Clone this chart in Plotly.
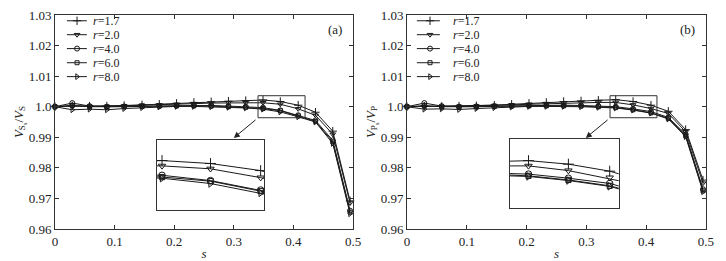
import plotly.graph_objects as go

# ---------------- data ----------------
s = [0.0, 0.029, 0.058, 0.087, 0.116, 0.146, 0.175, 0.204, 0.233,
     0.262, 0.291, 0.320, 0.349, 0.378, 0.408, 0.437, 0.466, 0.495]

r_labels = ["1.7", "2.0", "4.0", "6.0", "8.0"]

vs_r17 = [1.0000, 1.0003, 1.0002, 1.0002, 1.0004, 1.0006, 1.0008, 1.0011, 1.0014,
          1.0016, 1.0018, 1.0020, 1.0022, 1.0017, 1.0005, 0.9982, 0.9920, 0.9692]
vs_r20 = [1.0000, 1.0002, 1.0001, 1.0001, 1.0003, 1.0005, 1.0006, 1.0008, 1.0010,
          1.0012, 1.0013, 1.0013, 1.0013, 1.0008, 0.9993, 0.9972, 0.9910, 0.9685]
vs_r40 = [1.0000, 1.0012, 1.0002, 1.0000, 1.0001, 1.0002, 1.0003, 1.0004, 1.0005,
          1.0004, 1.0002, 1.0000, 0.9997, 0.9988, 0.9972, 0.9955, 0.9890, 0.9660]
vs_r60 = [1.0000, 1.0004, 1.0000, 0.9999, 1.0000, 1.0001, 1.0002, 1.0003, 1.0003,
          1.0002, 1.0000, 0.9998, 0.9994, 0.9987, 0.9970, 0.9952, 0.9885, 0.9655]
vs_r80 = [1.0000, 0.9990, 0.9992, 0.9990, 0.9994, 0.9997, 0.9999, 1.0001, 1.0001,
          1.0000, 0.9998, 0.9996, 0.9992, 0.9983, 0.9967, 0.9950, 0.9880, 0.9650]

vp_r17 = [1.0000, 1.0002, 1.0001, 1.0002, 1.0003, 1.0005, 1.0008, 1.0011, 1.0014,
          1.0017, 1.0019, 1.0021, 1.0023, 1.0017, 1.0005, 0.9985, 0.9925, 0.9760]
vp_r20 = [1.0000, 1.0001, 1.0000, 1.0001, 1.0002, 1.0004, 1.0006, 1.0008, 1.0010,
          1.0012, 1.0013, 1.0014, 1.0014, 1.0006, 0.9994, 0.9978, 0.9918, 0.9750]
vp_r40 = [1.0000, 1.0012, 1.0002, 1.0000, 1.0001, 1.0002, 1.0003, 1.0004, 1.0005,
          1.0005, 1.0004, 1.0002, 1.0000, 0.9993, 0.9984, 0.9965, 0.9910, 0.9730]
vp_r60 = [1.0000, 1.0003, 1.0000, 0.9999, 1.0000, 1.0001, 1.0002, 1.0003, 1.0003,
          1.0003, 1.0002, 1.0000, 0.9997, 0.9990, 0.9980, 0.9962, 0.9905, 0.9725]
vp_r80 = [1.0000, 0.9992, 0.9993, 0.9991, 0.9994, 0.9997, 0.9999, 1.0001, 1.0001,
          1.0001, 1.0000, 0.9998, 0.9996, 0.9989, 0.9979, 0.9960, 0.9902, 0.9722]

x_ticks = [0, 0.1, 0.2, 0.3, 0.4, 0.5]
x_ticktext = ["0", "0.1", "0.2", "0.3", "0.4", "0.5"]
y_ticks = [0.96, 0.97, 0.98, 0.99, 1.00, 1.01, 1.02, 1.03]
y_ticktext = ["0.96", "0.97", "0.98", "0.99", "1.0", "1.01", "1.02", "1.03"]

# ---------------- style ----------------
symbols = ["cross-thin-open", "triangle-down-open", "circle-open", "square-open", "triangle-right-open"]
msize = [6, 5, 5, 4, 5]
LINE = "#1a1a1a"
FONT = "Liberation Serif"

panelA = [vs_r17, vs_r20, vs_r40, vs_r60, vs_r80]
panelB = [vp_r17, vp_r20, vp_r40, vp_r60, vp_r80]

fig = go.Figure()

def add_series(series, xa, ya, size_scale=1.0):
    for i, ys in enumerate(series):
        fig.add_trace(go.Scatter(
            x=s, y=ys, mode="lines+markers", xaxis=xa, yaxis=ya,
            line=dict(color=LINE, width=1),
            marker=dict(symbol=symbols[i], size=msize[i] * size_scale, color=LINE,
                        line=dict(width=1, color=LINE)),
            cliponaxis=(xa in ("x5", "x6")), showlegend=False, hoverinfo="skip"))

add_series(panelA, "x", "y")
add_series(panelB, "x2", "y2")
add_series(panelA, "x5", "y5", 1.3)
add_series(panelB, "x6", "y6", 1.3)

# legend keys drawn on hidden overlay axes (0..1 of each panel)
leg_rows = [0.973, 0.908, 0.843, 0.777, 0.712]
leg_x = {"x3": (0.040, 0.074, 0.107, 0.121), "x4": (0.033, 0.077, 0.110, 0.147)}
for xa, ya in (("x3", "y3"), ("x4", "y4")):
    x0, xm, x1, xt = leg_x[xa]
    for i, yy in enumerate(leg_rows):
        fig.add_trace(go.Scatter(
            x=[x0, x1], y=[yy, yy], mode="lines", xaxis=xa, yaxis=ya,
            line=dict(color=LINE, width=1), showlegend=False, hoverinfo="skip"))
        fig.add_trace(go.Scatter(
            x=[xm], y=[yy], mode="markers", xaxis=xa, yaxis=ya,
            marker=dict(symbol=symbols[i], size=msize[i], color=LINE,
                        line=dict(width=1, color=LINE)),
            showlegend=False, hoverinfo="skip"))
        fig.add_annotation(x=xt, y=yy, xref=xa, yref=ya, text="<i>r</i>=" + r_labels[i],
                           showarrow=False, xanchor="left", yanchor="middle",
                           font=dict(family=FONT, size=12, color="#222"))

# ---------------- layout ----------------
dA = [0, 0.4578]
dB = [0.5407, 1.0]
main_ax = dict(showgrid=False, zeroline=False, showline=True, linecolor="#333", linewidth=1,
               mirror="ticks", ticks="inside", ticklen=4, tickcolor="#333", automargin=False,
               tickfont=dict(family=FONT, size=13, color="#222"))
xcommon = dict(main_ax, range=[0, 0.5], tickvals=x_ticks, ticktext=x_ticktext,
               title=dict(text="<i>s</i>", font=dict(family=FONT, size=13, color="#222"), standoff=4))
ycommon = dict(main_ax, range=[0.96, 1.03], tickvals=y_ticks, ticktext=y_ticktext)

inset_ax = dict(showgrid=False, zeroline=False, showline=True, linecolor="#333", linewidth=1,
                mirror=True, ticks="", showticklabels=False, automargin=False)
hidden = dict(range=[0, 1], visible=False, showgrid=False, zeroline=False, automargin=False)

fig.update_layout(
    width=726, height=261,
    margin=dict(l=55, r=20, t=15, b=32),
    paper_bgcolor="white", plot_bgcolor="white",
    font=dict(family=FONT, color="#222"),
    xaxis=dict(xcommon, domain=dA, anchor="y"),
    yaxis=dict(ycommon, domain=[0, 1], anchor="x",
               title=dict(text="<i>V</i><sub>S<sub>s</sub></sub>/<i>V</i><sub>S</sub>",
                          font=dict(family=FONT, size=13), standoff=2)),
    xaxis2=dict(xcommon, domain=dB, anchor="y2"),
    yaxis2=dict(ycommon, domain=[0, 1], anchor="x2",
                title=dict(text="<i>V</i><sub>P<sub>s</sub></sub>/<i>V</i><sub>P</sub>",
                           font=dict(family=FONT, size=13), standoff=2)),
    xaxis3=dict(hidden, overlaying="x", anchor="y3"),
    yaxis3=dict(hidden, overlaying="y", anchor="x3"),
    xaxis4=dict(hidden, overlaying="x2", anchor="y4"),
    yaxis4=dict(hidden, overlaying="y2", anchor="x4"),
    xaxis5=dict(inset_ax, domain=[0.1567, 0.321], range=[0.346, 0.410], anchor="y5"),
    yaxis5=dict(inset_ax, domain=[0.0888, 0.416], range=[0.9938, 1.0057], anchor="x5"),
    xaxis6=dict(inset_ax, domain=[0.699, 0.866], range=[0.3356, 0.4146], anchor="y6"),
    yaxis6=dict(inset_ax, domain=[0.098, 0.4206], range=[0.9942, 1.0060], anchor="x6"),
)

# zoom boxes
fig.add_shape(type="rect", xref="x", yref="y", x0=0.3406, x1=0.4195, y0=0.9964, y1=1.0036,
              line=dict(color="#333", width=1))
fig.add_shape(type="rect", xref="x2", yref="y2", x0=0.3395, x1=0.418, y0=0.9964, y1=1.0036,
              line=dict(color="#333", width=1))
# arrows
fig.add_annotation(x=0.300, y=0.9898, ax=0.339, ay=0.9961, xref="x", yref="y", axref="x", ayref="y",
                   showarrow=True, arrowhead=2, arrowsize=1.2, arrowwidth=1, arrowcolor="#222", text="")
fig.add_annotation(x=0.299, y=0.9898, ax=0.338, ay=0.9961, xref="x2", yref="y2", axref="x2", ayref="y2",
                   showarrow=True, arrowhead=2, arrowsize=1.2, arrowwidth=1, arrowcolor="#222", text="")
# panel labels
fig.add_annotation(x=0.97, y=0.93, xref="x domain", yref="y domain", text="(a)", showarrow=False,
                   xanchor="right", yanchor="middle", font=dict(family=FONT, size=13, color="#222"))
fig.add_annotation(x=0.97, y=0.93, xref="x2 domain", yref="y2 domain", text="(b)", showarrow=False,
                   xanchor="right", yanchor="middle", font=dict(family=FONT, size=13, color="#222"))

fig.write_html("out.html", config={"displayModeBar": False},
               post_script="document.body.style.margin='0';document.body.style.overflow='hidden';")
